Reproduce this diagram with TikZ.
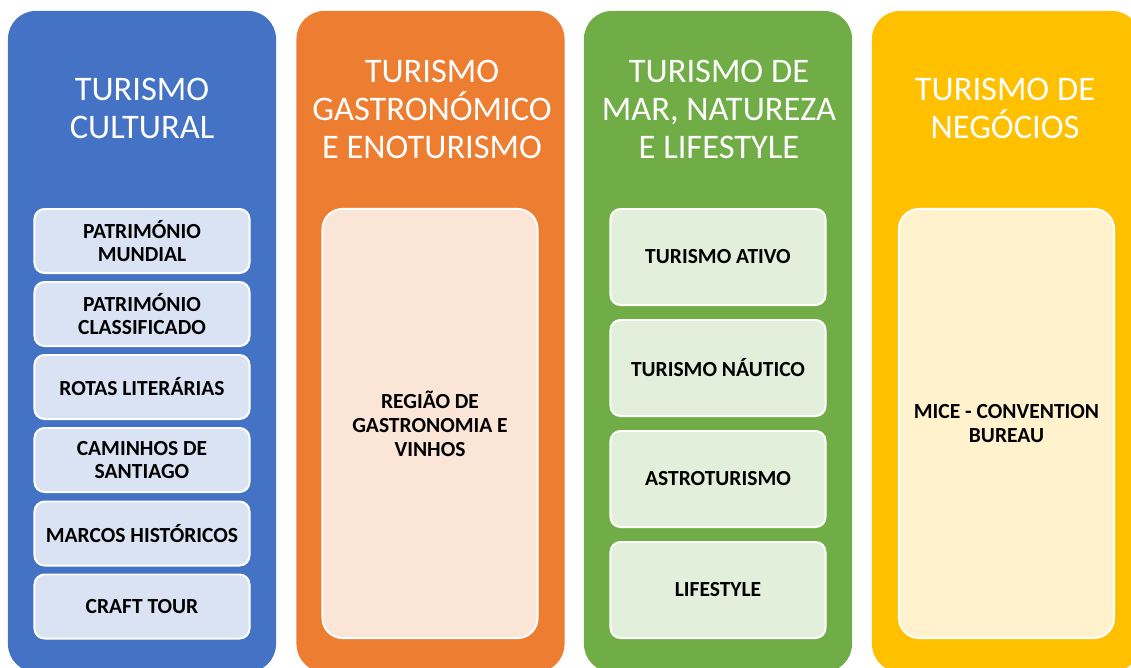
\documentclass[tikz,border=0pt]{standalone}
\usepackage{fontspec}
\setmainfont{Carlito}
\usepackage{tikz}
\usetikzlibrary{positioning}
\definecolor{tcBlue}{HTML}{4472C4}
\definecolor{tcOrange}{HTML}{ED7D31}
\definecolor{tcGreen}{HTML}{70AD47}
\definecolor{tcYellow}{HTML}{FFC000}
\definecolor{tcBlueLt}{HTML}{DAE3F3}
\definecolor{tcOrangeLt}{HTML}{FBE5D6}
\definecolor{tcGreenLt}{HTML}{E2EFDA}
\definecolor{tcYellowLt}{HTML}{FFF2CC}
\tikzset{
    column/.style={rectangle, rounded corners=0.7cm, minimum width=6.7cm, minimum height=16.525cm, inner sep=0pt},
    title/.style={align=center, text=white, font=\fontsize{24.5}{27}\selectfont},
    item/.style={rectangle, draw=white, line width=1.4pt, rounded corners=0.25cm, minimum width=5.375cm, align=center, font=\fontsize{15.3}{17}\selectfont\bfseries},
    bigitem/.style={item, rounded corners=0.5cm, minimum height=10.725cm}
}

\begin{document}
\begin{tikzpicture}[x=0.025cm, y=-0.025cm]
    \useasboundingbox (0,0) rectangle (1131,667);
    \clip (0,0) rectangle (1131,667);

    % Columns
    \node (cultural) [column, fill=tcBlue] at (142, 341.5) {};
    \node (gastro) [column, fill=tcOrange] at (430.5, 341.5) {};
    \node (mar) [column, fill=tcGreen] at (718, 341.5) {};
    \node (negocios) [column, fill=tcYellow] at (1006, 341.5) {};

    % Titles
    \node (cultural_title) [title] at (142, 108.5) {TURISMO\\CULTURAL};
    \node (gastro_title) [title] at (432, 109.5) {TURISMO\\GASTRONÓMICO\\E ENOTURISMO};
    \node (mar_title) [title] at (719, 109.5) {TURISMO DE\\MAR, NATUREZA\\E LIFESTYLE};
    \node (negocios_title) [title] at (1005, 108.5) {TURISMO DE\\NEGÓCIOS};

    % Turismo cultural
    \node (patrimonio_m) [item, fill=tcBlueLt, minimum height=1.6cm] at (142, 241) {PATRIMÓNIO\\MUNDIAL};
    \node (patrimonio_c) [item, fill=tcBlueLt, minimum height=1.6cm] at (142, 314) {PATRIMÓNIO\\CLASSIFICADO};
    \node (rotas) [item, fill=tcBlueLt, minimum height=1.6cm] at (142, 387) {ROTAS LITERÁRIAS};
    \node (caminhos) [item, fill=tcBlueLt, minimum height=1.6cm] at (142, 460) {CAMINHOS DE\\SANTIAGO};
    \node (marcos) [item, fill=tcBlueLt, minimum height=1.6cm] at (142, 533.5) {MARCOS HISTÓRICOS};
    \node (craft) [item, fill=tcBlueLt, minimum height=1.6cm] at (142, 606.5) {CRAFT TOUR};

    % Gastronomia
    \node (regiao) [bigitem, fill=tcOrangeLt] at (430, 423.5) {REGIÃO DE\\GASTRONOMIA E\\VINHOS};

    % Mar, natureza e lifestyle
    \node (ativo) [item, fill=tcGreenLt, minimum height=2.4cm] at (718, 257) {TURISMO ATIVO};
    \node (nautico) [item, fill=tcGreenLt, minimum height=2.4cm] at (718, 368) {TURISMO NÁUTICO};
    \node (astro) [item, fill=tcGreenLt, minimum height=2.4cm] at (718, 479) {ASTROTURISMO};
    \node (lifestyle) [item, fill=tcGreenLt, minimum height=2.4cm] at (718, 590) {LIFESTYLE};

    % Negocios
    \node (mice) [bigitem, fill=tcYellowLt] at (1006.5, 423.5) {MICE - CONVENTION\\BUREAU};
\end{tikzpicture}
\end{document}
